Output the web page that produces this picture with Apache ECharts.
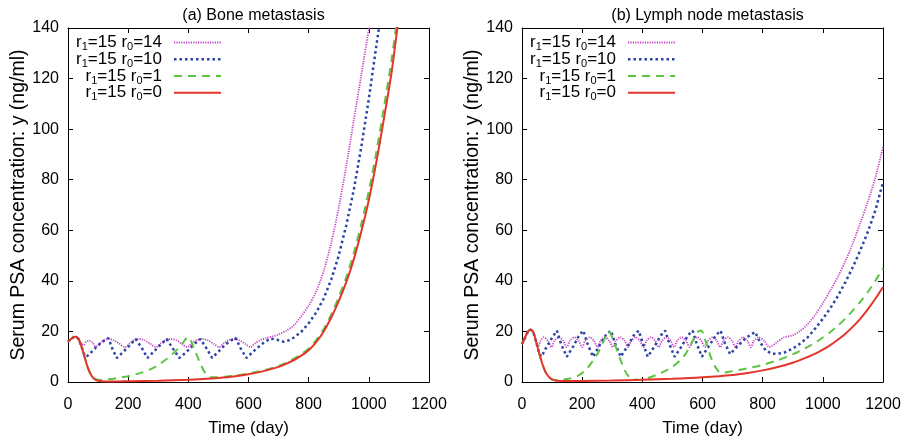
<!DOCTYPE html>
<html>
<head>
<meta charset="utf-8">
<script src="https://cdn.jsdelivr.net/npm/echarts@6/dist/echarts.min.js"></script>
<style>html,body{margin:0;padding:0;background:#fff;}#c{width:910px;height:442px;}</style>
</head>
<body>
<div id="c"></div>
<script>
// ---------- data (t in days, y in ng/ml) ----------
const xTicks = [0, 200, 400, 600, 800, 1000, 1200];
const yTicks = [0, 20, 40, 60, 80, 100, 120, 140];
const panelTitles = ['(a) Bone metastasis', '(b) Lymph node metastasis'];
const seriesNames = ['r1=15 r0=14', 'r1=15 r0=10', 'r1=15 r0=1', 'r1=15 r0=0'];
const legendR0 = ['14', '10', '1', '0'];

const boneR14 = [[0,16],[10,17],[20,17.8],[27,17.9],[35,17],[45,15],[52,14.6],[60,15.8],[70,16.4],[80,15.8],[92,14.0],[105,15.2],[120,16.6],[135,17.0],[150,16.6],[170,15.2],[190,13.8],[205,15.2],[220,16.6],[237,17.0],[255,16.5],[275,15.0],[292,13.8],[308,15.3],[325,16.6],[342,17.0],[360,16.5],[380,15.0],[397,13.8],[412,15.3],[430,16.6],[447,17.0],[465,16.5],[485,15.0],[502,13.8],[518,15.3],[535,16.6],[552,17.0],[570,16.5],[590,15.0],[607,13.8],[622,15.3],[640,16.6],[657,17.3],[680,18.0],[700,18.8],[725,20.3],[750,22.3],[775,26.0],[800,30.2],[825,35.8],[850,44],[875,55],[900,69],[925,85.5],[950,103.5],[975,121.5],[1000,139.5],[1015,150]];
const boneR10 = [[0,16],[10,17],[20,17.8],[27,17.9],[35,17],[45,14],[55,10.5],[62,10],[75,11.5],[100,14.5],[125,16.8],[134,17.4],[148,13],[162,9.5],[180,11.5],[205,14.5],[225,17],[231,17.5],[245,13.5],[264,9.5],[285,12],[310,15],[328,17],[334,17.5],[350,13],[370,9.5],[395,12],[420,15],[440,17],[446,17.5],[462,13],[479,9.5],[500,12],[525,15],[550,17],[557,17.5],[573,13.5],[593,9.5],[620,12.5],[650,15.5],[673,17.2],[679,17.6],[695,16.7],[717,15.9],[735,16.5],[751,17.6],[775,19.8],[800,23.2],[825,27.5],[850,33],[875,40.5],[900,50],[925,62],[950,76],[975,93],[1000,112],[1025,133],[1035,141],[1050,152]];
const boneR1 = [[0,16],[10,17],[20,17.8],[27,17.9],[35,17],[45,14],[55,10],[65,6],[75,3.2],[85,1.6],[95,1.0],[110,0.8],[130,1.0],[160,1.5],[200,2.3],[250,3.9],[290,6],[330,9.3],[360,12.5],[380,15.2],[393,17.3],[400,17.8],[408,16.5],[418,13.5],[429,10.4],[440,7.3],[451,4.5],[462,2.8],[475,1.9],[500,1.9],[550,2.5],[600,3.4],[650,4.6],[700,6.3],[725,7.6],[750,9.1],[775,11.0],[800,13.3],[825,16.6],[850,21],[875,26.7],[900,33.5],[925,41.5],[950,51],[975,62.5],[1000,75.5],[1025,91],[1050,108.5],[1075,127],[1090,140],[1105,152]];
const boneR0 = [[0,16],[10,17],[20,17.8],[27,17.9],[35,17],[45,14],[55,10],[65,6],[75,3.2],[85,1.5],[95,0.7],[110,0.3],[150,0.2],[200,0.28],[300,0.5],[400,0.85],[450,1.15],[500,1.6],[550,2.2],[600,3.1],[650,4.3],[700,6.0],[725,7.2],[750,8.6],[775,10.4],[800,12.6],[825,15.8],[850,20],[875,25.5],[900,32],[925,39.5],[950,48.5],[975,59.5],[1000,72],[1025,87],[1050,104],[1075,122],[1095,140],[1110,153]];

const lymphR14 = [[0,15],[10,17.5],[20,20],[29,20.7],[38,19.5],[48,15.5],[54,14.2],[62,16.3],[72,17.7],[86,16.3],[98,13.8],[108,16.3],[123,17.7],[137,16.3],[149,13.8],[159,16.3],[174,17.7],[188,16.3],[200,13.8],[210,16.3],[225,17.7],[239,16.3],[251,13.8],[261,16.3],[276,17.7],[290,16.3],[302,13.8],[312,16.3],[327,17.7],[341,16.3],[353,13.8],[363,16.3],[378,17.7],[392,16.3],[404,13.8],[414,16.3],[429,17.7],[443,16.3],[455,13.8],[465,16.3],[480,17.7],[494,16.3],[506,13.8],[516,16.3],[531,17.7],[545,16.3],[557,13.8],[567,16.3],[582,17.7],[596,16.3],[608,13.8],[618,16.3],[633,17.7],[647,16.3],[659,13.8],[669,16.3],[684,17.7],[698,16.3],[710,13.8],[720,16.3],[735,17.7],[749,16.3],[761,13.8],[771,16.3],[786,17.7],[805,16.3],[822,13.8],[850,16],[870,17.6],[900,18.5],[925,20.2],[950,23],[975,26.6],[1000,31.2],[1025,36.2],[1050,41.6],[1075,47.8],[1100,55],[1125,63],[1150,71.5],[1175,81],[1200,93]];
const lymphR10 = [[0,15],[10,17.5],[20,20],[29,20.7],[38,19.5],[48,15.5],[58,11],[65,10],[80,13.5],[100,17.5],[116,20.3],[130,15],[149,10],[170,14],[190,18.5],[204,20.3],[218,15],[236,10],[258,14.5],[280,18.8],[296,20.3],[310,15],[328,10],[350,14],[372,18.5],[388,20.3],[401,15.5],[418,10],[440,14],[462,18.5],[476,20.3],[490,15],[507,10],[530,14],[552,18.5],[567,20.3],[581,15],[598,10],[620,14],[645,18.5],[660,20.3],[674,15.5],[692,11],[715,14],[745,17.5],[775,19.8],[790,16],[810,12.5],[830,11.2],[850,11.2],[871,11.6],[900,13.2],[925,15.2],[950,17.7],[975,21.2],[1000,25],[1025,29.2],[1050,34],[1075,39.5],[1100,45.5],[1125,52.2],[1150,59.5],[1175,68],[1200,79]];
const lymphR1 = [[0,15],[10,17.5],[20,20],[29,20.7],[38,19.5],[48,15.5],[58,11],[68,7],[78,4],[88,2.2],[99,1.1],[110,0.8],[130,0.9],[150,1.2],[182,2.2],[210,4.5],[237,8.6],[255,12],[270,15.9],[280,18.5],[287,20],[293,19.5],[302,17],[316,12.5],[330,8],[343,4.3],[355,2.2],[370,1.0],[390,0.9],[420,1.6],[460,3.5],[500,6],[537,10],[560,14.5],[577,18.5],[590,20.3],[597,20.3],[605,18],[615,14.5],[627,10],[640,6.5],[652,4.4],[665,3.6],[700,4.3],[750,5.4],[800,6.8],[850,8.6],[900,10.9],[925,12.3],[950,13.9],[975,15.6],[1000,17.6],[1025,19.8],[1050,22.3],[1075,25.1],[1100,28.3],[1125,31.8],[1150,35.7],[1175,40.1],[1200,45]];
const lymphR0 = [[0,15],[10,17.5],[20,20],[29,20.7],[38,19.5],[48,15.5],[58,11],[68,7],[78,4],[88,2.2],[99,1.0],[115,0.5],[150,0.35],[200,0.4],[300,0.6],[400,0.9],[500,1.3],[600,1.9],[700,2.8],[750,3.6],[800,4.6],[850,5.9],[900,7.6],[950,9.9],[975,11.2],[1000,12.8],[1025,14.6],[1050,16.7],[1075,19.1],[1100,21.9],[1125,25.1],[1150,28.8],[1175,33],[1200,37.6]];

// ---------- styles ----------
const FONT = 'Liberation Sans';
const styles = [
  { color: '#c640c4', width: 1.8, type: [1.2, 1.2], smooth: 0.3 },
  { color: '#2c44a4', width: 2.5, type: [2.5, 3], smooth: false },
  { color: '#5cc442', width: 2, type: [8, 6], smooth: 0.3 },
  { color: '#e3352a', width: 2, type: 'solid', smooth: 0.3 }
];
const panels = [[boneR14, boneR10, boneR1, boneR0], [lymphR14, lymphR10, lymphR1, lymphR0]];
const grids = [
  { left: 68, top: 28, width: 361, height: 361 },
  { left: 522, top: 28, width: 361, height: 361 }
];

const xAxes = [], yAxes = [], series = [], titles = [], graphics = [];
grids.forEach((g, gi) => {
  const axLine = { show: true, onZero: false, lineStyle: { color: '#000', width: 1 } };
  const axTick = { show: true, inside: true, length: 5, lineStyle: { color: '#000' } };
  xAxes.push({ type: 'value', gridIndex: gi, position: 'bottom', min: xTicks[0], max: xTicks[xTicks.length - 1], interval: 200,
    axisLine: axLine, axisTick: axTick, splitLine: { show: false },
    axisLabel: { fontFamily: FONT, fontSize: 16, color: '#000', margin: 15, formatter: v => String(v) },
    name: 'Time (day)', nameLocation: 'middle', nameGap: 38,
    nameTextStyle: { fontFamily: FONT, fontSize: 17, color: '#000' } });
  xAxes.push({ type: 'value', gridIndex: gi, position: 'top', min: xTicks[0], max: xTicks[xTicks.length - 1], interval: 200,
    axisLine: axLine, axisTick: axTick, splitLine: { show: false }, axisLabel: { show: false } });
  yAxes.push({ type: 'value', gridIndex: gi, position: 'left', min: yTicks[0], max: yTicks[yTicks.length - 1], interval: 20,
    axisLine: axLine, axisTick: axTick, splitLine: { show: false },
    axisLabel: { fontFamily: FONT, fontSize: 16, color: '#000', margin: 9, formatter: v => String(v) },
    name: 'Serum PSA concentration: y (ng/ml)', nameLocation: 'middle', nameGap: 39, nameRotate: 90,
    nameTextStyle: { fontFamily: FONT, fontSize: 19.5, color: '#000' } });
  yAxes.push({ type: 'value', gridIndex: gi, position: 'right', min: yTicks[0], max: yTicks[yTicks.length - 1], interval: 20,
    axisLine: axLine, axisTick: axTick, splitLine: { show: false }, axisLabel: { show: false } });

  titles.push({ text: panelTitles[gi], left: g.left + g.width / 2, top: 3, textAlign: 'center',
    textStyle: { fontFamily: FONT, fontSize: 16, fontWeight: 'normal', color: '#000' } });

  panels[gi].forEach((d, si) => {
    const s = styles[si];
    series.push({ type: 'line', name: seriesNames[si], xAxisIndex: gi * 2, yAxisIndex: gi * 2,
      data: d, showSymbol: false, smooth: s.smooth, clip: true,
      lineStyle: { color: s.color, width: s.width, type: s.type }, z: 2 + si, animation: false });
  });

  // legend: text right-aligned, sample line on its right
  const rowsY = [42.5, 59.3, 76, 92.7];
  rowsY.forEach((ry, i) => {
    const s = styles[i];
    graphics.push({ type: 'text', x: g.left + 94, y: ry, z: 10,
      style: { text: '{m|r}{s|1}{m|=15 r}{s|0}{m|=' + legendR0[i] + '}', align: 'right', verticalAlign: 'middle',
        rich: { m: { fontFamily: FONT, fontSize: 17, fill: '#000' },
                s: { fontFamily: FONT, fontSize: 11, fill: '#000', padding: [9, 0, 0, 0] } } } });
    graphics.push({ type: 'line', z: 10,
      shape: { x1: g.left + 106, y1: ry, x2: g.left + 153, y2: ry },
      style: { stroke: s.color, lineWidth: s.width, lineDash: s.type === 'solid' ? null : s.type } });
  });
});

const chart = echarts.init(document.getElementById('c'), null, { renderer: 'canvas' });
chart.setOption({
  animation: false,
  backgroundColor: '#fff',
  title: titles,
  grid: grids,
  xAxis: xAxes,
  yAxis: yAxes,
  series: series,
  graphic: graphics
});
</script>
</body>
</html>
